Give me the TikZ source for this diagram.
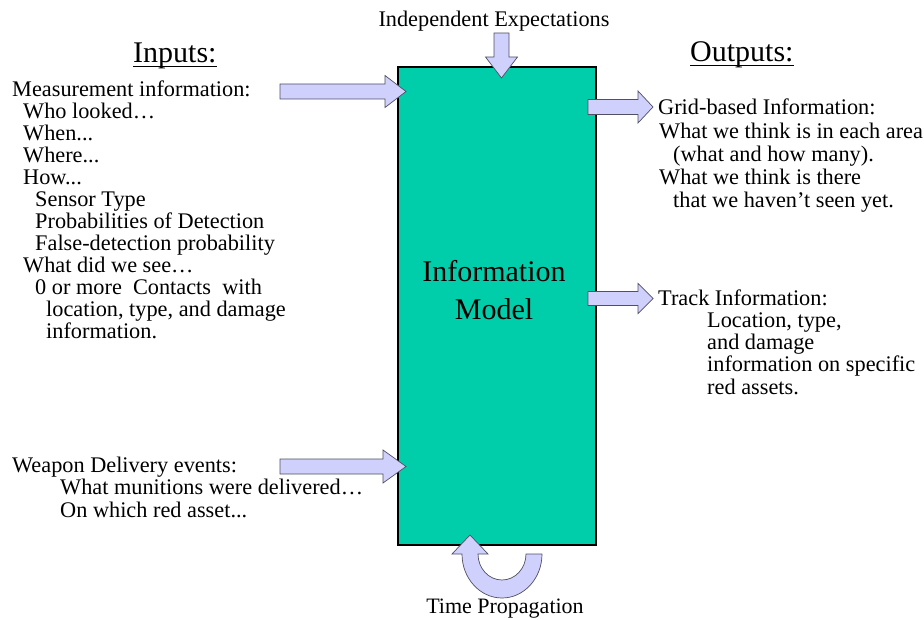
\documentclass[tikz,border=0pt]{standalone}
\usepackage{fontspec}
\setmainfont{Liberation Serif}
\definecolor{modelgreen}{RGB}{0,206,170}
\definecolor{arrowfill}{RGB}{208,208,252}
\definecolor{arrowline}{RGB}{80,80,100}
% horizontal block arrow: tail x, head-base x, tip x, centre y, half shaft, half head
\newcommand{\harrowshape}[6]{%
  (#1,#4-#5) -- (#2,#4-#5) -- (#2,#4-#6) -- (#3,#4) -- (#2,#4+#6) -- (#2,#4+#5) -- (#1,#4+#5) -- cycle}
\begin{document}
\begin{tikzpicture}[x=1pt,y=-1pt,
  txt/.style={anchor=base west, inner sep=0pt, font=\fontsize{22.3}{26}\selectfont},
  headtxt/.style={anchor=base west, inner sep=0pt, font=\fontsize{30}{36}\selectfont},
  modelbox/.style={draw=black, line width=1.4pt, fill=modelgreen,
    minimum width=198pt, minimum height=478pt, inner sep=0pt, outer sep=0pt},
  blockarrow/.style={fill=arrowfill, draw=arrowline, line width=0.7pt, line join=miter},
  uline/.style={line width=1.3pt}]
\useasboundingbox (0,0) rectangle (924,620);

% central model block
\node[modelbox] (model) at (497,306) {};
\node[anchor=base, inner sep=0pt, font=\fontsize{30}{36}\selectfont] (mt1) at (494,282) {Information};
\node[anchor=base, inner sep=0pt, font=\fontsize{30}{36}\selectfont] (mt2) at (494,320) {Model};

% block arrows into and out of the model
\draw[blockarrow] (494,33) -- (509,33) -- (509,57) -- (517.5,57) -- (501.5,78) -- (485.5,57) -- (494,57) -- cycle;
\draw[blockarrow] \harrowshape{280}{385}{406}{91.5}{7.5}{16};
\draw[blockarrow] \harrowshape{280}{383}{406}{466.5}{7.5}{16.5};
\draw[blockarrow] \harrowshape{588}{638}{653}{107}{7.5}{16};
\draw[blockarrow] \harrowshape{588}{638}{653}{298.5}{7}{15};

% time propagation loop under the block
\draw[blockarrow] (526,554) -- (542,554)
  arc[start angle=0, end angle=180, x radius=40, y radius=44]
  -- (452,554) -- (470,535) -- (488,554) -- (478,554)
  arc[start angle=180, end angle=0, x radius=24, y radius=26] -- cycle;

% titles
\node[anchor=base, inner sep=0pt, font=\fontsize{22.3}{26}\selectfont] (indep) at (494,27) {Independent Expectations};
\node[anchor=base, inner sep=0pt, font=\fontsize{22}{26}\selectfont] (timep) at (505,613) {Time Propagation};
\node[headtxt] (inputs) at (133,63) {Inputs:};
\draw[uline] ([yshift=-3.5pt]inputs.base west) -- ([yshift=-3.5pt]inputs.base east);
\node[headtxt] (outputs) at (690,62) {Outputs:};
\draw[uline] ([yshift=-3.5pt]outputs.base west) -- ([yshift=-3.5pt]outputs.base east);

% inputs column
\node[txt] (in1)  at (12,97)  {Measurement information:};
\node[txt] (in2)  at (23,119) {Who looked…};
\node[txt] (in3)  at (23,141) {When...};
\node[txt] (in4)  at (23,163) {Where...};
\node[txt] (in5)  at (23,185) {How...};
\node[txt] (in6)  at (35,207) {Sensor Type};
\node[txt] (in7)  at (35,229) {Probabilities of Detection};
\node[txt] (in8)  at (35,251) {False-detection probability};
\node[txt] (in9)  at (23,273) {What did we see…};
\node[txt] (in10) at (35,295) {0 or more\ \ Contacts\ \ with};
\node[txt] (in11) at (46,317) {location, type, and damage};
\node[txt] (in12) at (46,339) {information.};
\node[txt] (wd1)  at (12,472)   {Weapon Delivery events:};
\node[txt] (wd2)  at (60,494.5) {What munitions were delivered…};
\node[txt] (wd3)  at (60,517)   {On which red asset...};

% outputs column
\node[txt] (gr1) at (658,115)   {Grid-based Information:};
\node[txt] (gr2) at (659,138.2) {What we think is in each area};
\node[txt] (gr3) at (673,161.4) {(what and how many).};
\node[txt] (gr4) at (659,184.6) {What we think is there};
\node[txt] (gr5) at (673,207.8) {that we haven’t seen yet.};
\node[txt] (tr1) at (658,306) {Track Information:};
\node[txt] (tr2) at (707,328) {Location, type,};
\node[txt] (tr3) at (707,350) {and damage};
\node[txt] (tr4) at (707,372) {information on specific};
\node[txt] (tr5) at (707,394) {red assets.};
\end{tikzpicture}
\end{document}
